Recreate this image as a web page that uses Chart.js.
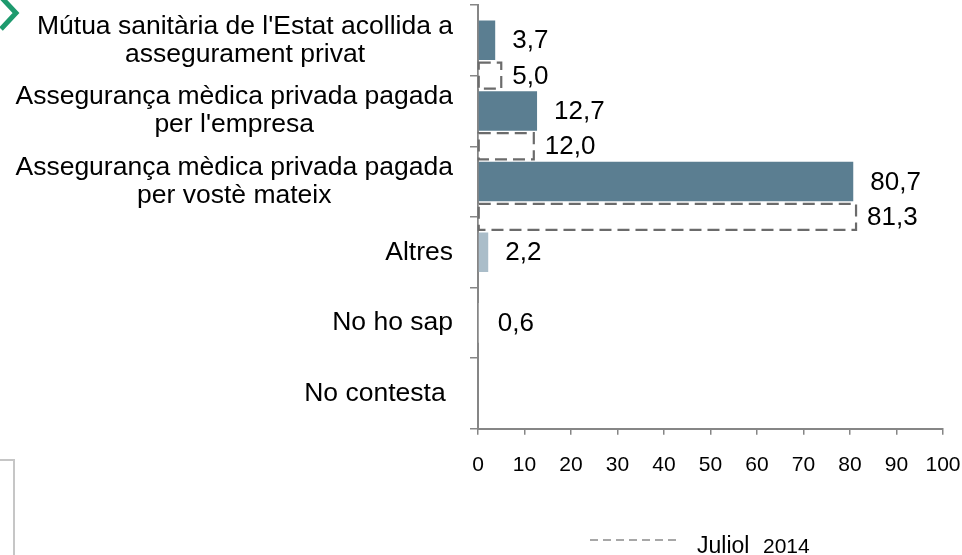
<!DOCTYPE html>
<html>
<head>
<meta charset="utf-8">
<script src="https://cdn.jsdelivr.net/npm/chart.js@4.4.1/dist/chart.umd.min.js"></script>
<style>
  html, body { margin: 0; padding: 0; background: #ffffff; }
  #wrap { width: 962px; height: 555px; position: relative; }
</style>
</head>
<body>
<div id="wrap"><canvas id="c" width="962" height="555"></canvas></div>
<script>
// ---- data ----
const categories = [
  ["Mútua sanitària de l'Estat acollida a", "assegurament privat"],
  ["Assegurança mèdica privada pagada", "per l'empresa"],
  ["Assegurança mèdica privada pagada", "per vostè mateix"],
  ["Altres"],
  ["No ho sap"],
  ["No contesta "]
];
const currentValues = [3.7, 12.7, 80.7, 2.2, 0.6, null];
const july2014Values = [5.0, 12.0, 81.3, null, null, null];
const legendLabel = ["Juliol", "2014"];
const xTicks = [0, 10, 20, 30, 40, 50, 60, 70, 80, 90, 100];

// ---- styles ----
const solidColour = '#5B7E91';
const lightColour = '#AABDC9';
const barColours = [solidColour, solidColour, solidColour, lightColour, '#FFFFFF', solidColour];
const axisGrey = '#868686';
const dashGrey = '#6B6B6B';
const FONT = '"Liberation Sans", Arial, sans-serif';

Chart.defaults.font.family = FONT;

// boundaries axis for the comparison series: bars sit on category boundaries
const boundaryLabels = ['b0', 'b1', 'b2', 'b3', 'b4', 'b5', 'b6'];
const july2014OnBoundaries = [null].concat(july2014Values);

function fmt(v) { return v.toFixed(1).replace('.', ','); }

const decoPlugin = {
  id: 'deco',
  afterDatasetsDraw(chart) {
    const ctx = chart.ctx;
    // dashed outlines for comparison series
    const meta1 = chart.getDatasetMeta(1);
    ctx.save();
    ctx.strokeStyle = dashGrey;
    ctx.lineWidth = 2.2;
    ctx.setLineDash([12, 6]);
    meta1.data.forEach((el, i) => {
      const v = july2014OnBoundaries[i];
      if (v === null || v === undefined) return;
      const p = el.getProps(['x', 'y', 'base', 'height'], true);
      ctx.strokeRect(p.base, p.y - p.height / 2, p.x - p.base, p.height);
    });
    ctx.restore();

    // value labels
    ctx.save();
    ctx.fillStyle = '#000';
    ctx.font = '26px ' + FONT;
    ctx.textAlign = 'left';
    ctx.textBaseline = 'middle';
    const meta0 = chart.getDatasetMeta(0);
    meta0.data.forEach((el, i) => {
      const v = currentValues[i];
      if (v === null || v === undefined) return;
      const p = el.getProps(['x', 'y'], true);
      ctx.fillText(fmt(v), p.x + 17, p.y + 1);
    });
    meta1.data.forEach((el, i) => {
      const v = july2014OnBoundaries[i];
      if (v === null || v === undefined) return;
      const p = el.getProps(['x', 'y'], true);
      ctx.fillText(fmt(v), p.x + 11, p.y + 1);
    });
    ctx.restore();
  },
  afterDraw(chart) {
    const ctx = chart.ctx;
    const ys = chart.scales.y;
    const area = chart.chartArea;
    // category labels
    ctx.save();
    ctx.fillStyle = '#000';
    ctx.font = '26.5px ' + FONT;
    ctx.textBaseline = 'middle';
    ctx.textAlign = 'center';
    const rightEdge = area.left - 25;
    const lh = 28;
    categories.forEach((lines, i) => {
      const yc = ys.getPixelForValue(i);
      let w = 0;
      lines.forEach(l => { w = Math.max(w, ctx.measureText(l).width); });
      const cx = rightEdge - w / 2;
      lines.forEach((l, k) => {
        const y = yc + (k - (lines.length - 1) / 2) * lh;
        ctx.fillText(l, cx, y);
      });
    });
    ctx.restore();

    // legend
    ctx.save();
    ctx.strokeStyle = '#8A8A8A';
    ctx.lineWidth = 1.6;
    ctx.setLineDash([8, 5]);
    ctx.beginPath();
    ctx.moveTo(590, 540);
    ctx.lineTo(678, 540);
    ctx.stroke();
    ctx.setLineDash([]);
    ctx.fillStyle = '#000';
    ctx.textBaseline = 'alphabetic';
    ctx.textAlign = 'left';
    ctx.font = '23px ' + FONT;
    ctx.fillText(legendLabel[0], 697, 553);
    ctx.font = '21px ' + FONT;
    ctx.fillText(legendLabel[1], 763, 553);
    ctx.restore();

    // slide decorations
    ctx.save();
    ctx.strokeStyle = '#1E9A6E';
    ctx.lineWidth = 5;
    ctx.lineJoin = 'miter';
    ctx.beginPath();
    ctx.moveTo(1, -3);
    ctx.lineTo(16, 13);
    ctx.lineTo(1, 29);
    ctx.stroke();
    ctx.strokeStyle = '#C6C6C6';
    ctx.lineWidth = 2;
    ctx.beginPath();
    ctx.moveTo(0, 460);
    ctx.lineTo(14, 460);
    ctx.lineTo(14, 556);
    ctx.stroke();
    ctx.restore();
  }
};

new Chart(document.getElementById('c'), {
  type: 'bar',
  data: {
    labels: categories,
    datasets: [
      {
        label: 'Actual',
        data: currentValues,
        backgroundColor: barColours,
        borderWidth: 0,
        yAxisID: 'y',
        grouped: false,
        categoryPercentage: 1,
        barPercentage: 0.56
      },
      {
        label: legendLabel.join(' '),
        data: july2014OnBoundaries,
        backgroundColor: '#FFFFFF',
        borderWidth: 0,
        yAxisID: 'y2',
        grouped: false,
        categoryPercentage: 1,
        barPercentage: 0.37
      }
    ]
  },
  options: {
    indexAxis: 'y',
    responsive: false,
    animation: false,
    devicePixelRatio: 1,
    layout: { padding: { left: 470, top: 5, right: 19, bottom: 59 } },
    plugins: {
      legend: { display: false },
      tooltip: { enabled: false }
    },
    scales: {
      x: {
        type: 'linear',
        min: 0,
        max: 100,
        afterBuildTicks(scale) { scale.ticks = xTicks.map(v => ({ value: v })); },
        afterFit(scale) { scale.paddingLeft = 0; scale.paddingRight = 0; },
        ticks: {
          color: '#000',
          font: { size: 21 },
          padding: 18
        },
        grid: {
          drawOnChartArea: false,
          drawTicks: true,
          tickLength: 6,
          color: axisGrey,
          lineWidth: 1.5
        },
        border: { display: true, color: axisGrey, width: 2 }
      },
      y: {
        type: 'category',
        position: 'left',
        ticks: { display: false },
        grid: {
          drawOnChartArea: false,
          drawTicks: true,
          tickLength: 8,
          color: axisGrey,
          lineWidth: 1.5,
          offset: true
        },
        border: { display: true, color: axisGrey, width: 2 }
      },
      y2: {
        type: 'category',
        labels: boundaryLabels,
        offset: false,
        display: false,
        position: 'left'
      }
    }
  },
  plugins: [decoPlugin]
});
</script>
</body>
</html>
